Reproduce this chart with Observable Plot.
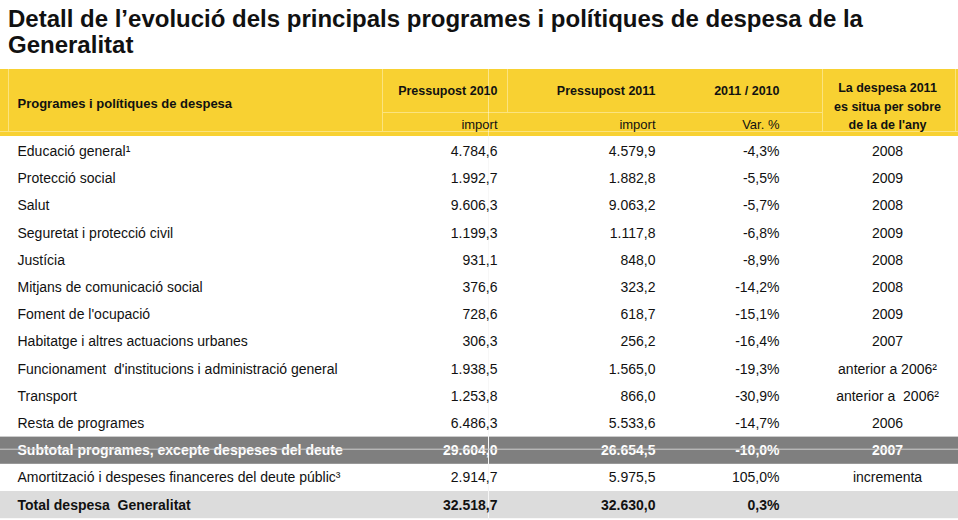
<!DOCTYPE html>
<html>
<head>
<meta charset="utf-8">
<script src="https://cdn.jsdelivr.net/npm/d3@7"></script>
<script src="https://cdn.jsdelivr.net/npm/@observablehq/plot@0.6"></script>
<style>
  html, body { margin: 0; padding: 0; background: #fff; }
  #title { font: bold 24px "Liberation Sans", Arial, sans-serif; line-height: 26px; padding: 6px 8px 0 8px; color: #111; height: 52px; }
  svg text { white-space: pre; }
</style>
</head>
<body>
<div id="title">Detall de l’evolució dels principals programes i polítiques de despesa de la<br>Generalitat</div>
<div id="chart"></div>
<script>
// ---- data ----
const programs = [
  "Educació general¹",
  "Protecció social",
  "Salut",
  "Seguretat i protecció civil",
  "Justícia",
  "Mitjans de comunicació social",
  "Foment de l'ocupació",
  "Habitatge i altres actuacions urbanes",
  "Funcionament  d'institucions i administració general",
  "Transport",
  "Resta de programes",
  "Subtotal programes, excepte despeses del deute",
  "Amortització i despeses financeres del deute públic³",
  "Total despesa  Generalitat"
];
const budget2010 = [4784.6, 1992.7, 9606.3, 1199.3, 931.1, 376.6, 728.6, 306.3, 1938.5, 1253.8, 6486.3, 29604.0, 2914.7, 32518.7];
const budget2011 = [4579.9, 1882.8, 9063.2, 1117.8, 848.0, 323.2, 618.7, 256.2, 1565.0, 866.0, 5533.6, 26654.5, 5975.5, 32630.0];
const changePct  = [-4.3, -5.5, -5.7, -6.8, -8.9, -14.2, -15.1, -16.4, -19.3, -30.9, -14.7, -10.0, 105.0, 0.3];
const aboveYear  = ["2008", "2009", "2008", "2009", "2008", "2008", "2009", "2007", "anterior a 2006²", "anterior a  2006²", "2006", "2007", "incrementa", ""];
const rowKinds   = ["normal","normal","normal","normal","normal","normal","normal","normal","normal","normal","normal","subtotal","normal","total"];

const headerLabel = "Programes i polítiques de despesa";
const headerTitles = ["Pressupost 2010", "Pressupost 2011", "2011 / 2010"];
const headerUnits  = ["import", "import", "Var. %"];
const headerLast   = "La despesa 2011\nes situa per sobre\nde la de l'any";

// ---- layout ----
const W = 958, H = 462;
const headTop = 11, headBot = 78, bodyTop = 79.4, rowH = 27.2;
const colX = {label: 17, p10: 497, p11: 655, chg: 779, above: 887};
const yellow = "#F8D132", lightYellow = "#FBE37E";

const loc = d3.formatLocale({decimal: ",", thousands: ".", grouping: [3], currency: ["", "€"], minus: "-"});
const fNum = loc.format(",.1f");
const fPct = v => loc.format(".1f")(v) + "%";

const rows = programs.map((p, i) => ({
  i, label: p,
  p10: fNum(budget2010[i]), p11: fNum(budget2011[i]), chg: fPct(changePct[i]), above: aboveYear[i],
  kind: rowKinds[i],
  yc: bodyTop + (i + 0.5) * rowH, y1: bodyTop + i * rowH, y2: bodyTop + (i + 1) * rowH
}));

const font = "Liberation Sans, Arial, Helvetica, sans-serif";
const cols = [
  {key: "label", anchor: "start"},
  {key: "p10", anchor: "end"},
  {key: "p11", anchor: "end"},
  {key: "chg", anchor: "end"},
  {key: "above", anchor: "middle"}
];

const bodyMarks = cols.flatMap(c => [
  Plot.text(rows.filter(d => d.kind === "normal"), {
    x: () => colX[c.key], y: "yc", text: c.key, textAnchor: c.anchor,
    fontSize: 14, fill: "#111"
  }),
  Plot.text(rows.filter(d => d.kind !== "normal"), {
    x: () => colX[c.key], y: "yc", text: c.key, textAnchor: c.anchor,
    fontSize: 14, fontWeight: "bold", fill: d => d.kind === "subtotal" ? "#fff" : "#111"
  })
]);

const headerCols = headerTitles.map((t, j) => ({t, u: headerUnits[j], x: [colX.p10, colX.p11, colX.chg][j]}));

const chart = Plot.plot({
  width: W, height: H, margin: 0,
  x: {domain: [0, W], range: [0, W], axis: null},
  y: {domain: [0, H], range: [0, H], axis: null},
  style: {fontFamily: font, background: "#fff"},
  marks: [
    // header band
    Plot.rect([0], {x1: 0, x2: W, y1: headTop, y2: headBot, fill: yellow}),
    Plot.ruleY([131 - 58], {x1: 0, x2: W, stroke: lightYellow, strokeWidth: 1.2}),
    Plot.ruleY([112 - 58], {x1: 382, x2: 822, stroke: lightYellow, strokeWidth: 1}),
    Plot.ruleX([8, 382, 822, 955], {y1: headTop, y2: 131 - 58, stroke: lightYellow, strokeWidth: 1}),
    Plot.ruleX([507], {y1: headTop, y2: 112 - 58, stroke: lightYellow, strokeWidth: 1}),
    // row backgrounds
    Plot.rect(rows.filter(d => d.kind !== "normal"), {
      x1: 0, x2: W, y1: "y1", y2: "y2",
      fill: d => d.kind === "subtotal" ? "#7f7f7f" : "#dcdcdc"
    }),
    Plot.ruleX([488], {y1: headTop, y2: H, stroke: "#ffffff", strokeOpacity: 0.45, strokeWidth: 1}),
    Plot.ruleX([488], {y1: headBot, y2: H, stroke: "#f7f7f7", strokeWidth: 1}),
    // header text
    Plot.text([headerLabel], {x: () => colX.label, y: () => 103 - 58, text: d => d, textAnchor: "start", fontSize: 13, fontWeight: "bold", fill: "#111"}),
    Plot.text(headerCols, {x: "x", y: () => 90 - 58, text: "t", textAnchor: "end", fontSize: 12.5, fontWeight: "bold", fill: "#111"}),
    Plot.text(headerCols, {x: "x", y: () => 124 - 58, text: "u", textAnchor: "end", fontSize: 13, fill: "#111"}),
    Plot.text([headerLast], {x: () => colX.above, y: () => 104 - 58, text: d => d, textAnchor: "middle", fontSize: 12.5, fontWeight: "bold", lineHeight: 1.5, fill: "#111"}),
    // body text
    ...bodyMarks,
    // thin line across subtotal row
    Plot.ruleY(rows.filter(d => d.kind === "subtotal"), {y: d => d.yc - 1.5, x1: 0, x2: W, stroke: "#cfcfcf", strokeWidth: 1})
  ]
});
document.getElementById("chart").append(chart);
</script>
</body>
</html>
